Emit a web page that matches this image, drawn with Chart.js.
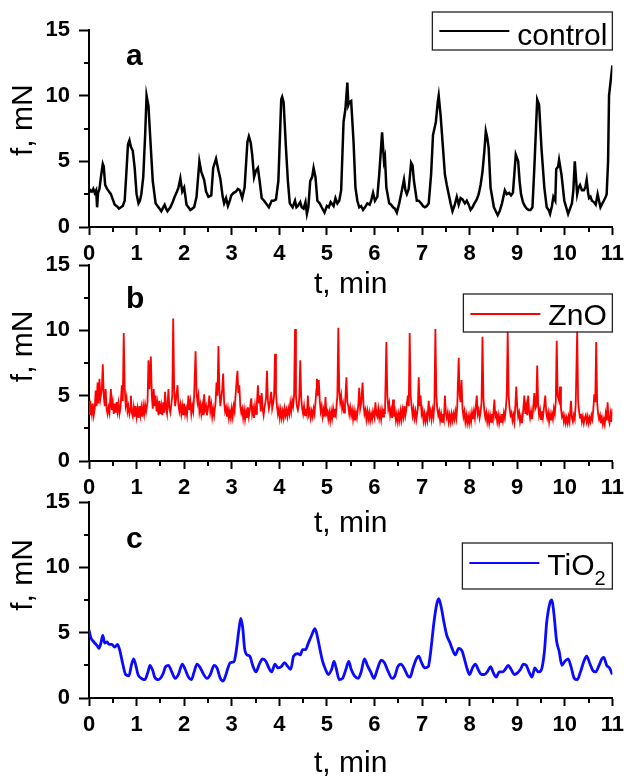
<!DOCTYPE html>
<html><head><meta charset="utf-8">
<script src="https://cdn.jsdelivr.net/npm/chart.js@4.4.1/dist/chart.umd.min.js"></script>
<style>
html,body{margin:0;padding:0;background:#fff;}
#wrap{position:relative;width:630px;height:782px;overflow:hidden;background:#fff;}
canvas{position:absolute;left:0;}
</style></head><body>
<div id="wrap">
<canvas id="ca" width="630" height="303" style="top:0px"></canvas>
<canvas id="cb" width="630" height="307" style="top:235px"></canvas>
<canvas id="cc" width="630" height="310" style="top:472px"></canvas>
</div>
<script>
// ---- data (t in min, f in mN) ----
const controlT = [0.00,0.03,0.06,0.09,0.12,0.15,0.17,0.19,0.22,0.25,0.29,0.31,0.34,0.38,0.42,0.46,0.50,0.54,0.58,0.63,0.67,0.71,0.75,0.78,0.82,0.85,0.88,0.92,0.96,1.00,1.04,1.07,1.10,1.14,1.18,1.21,1.25,1.30,1.34,1.40,1.46,1.52,1.56,1.59,1.62,1.65,1.71,1.76,1.80,1.85,1.88,1.92,1.96,2.00,2.05,2.09,2.13,2.17,2.21,2.26,2.32,2.36,2.42,2.46,2.51,2.57,2.61,2.67,2.72,2.76,2.81,2.84,2.88,2.92,2.96,2.99,3.04,3.09,3.13,3.17,3.22,3.27,3.33,3.36,3.40,3.43,3.47,3.51,3.55,3.59,3.63,3.68,3.72,3.78,3.84,3.88,3.93,3.98,4.04,4.06,4.09,4.14,4.18,4.22,4.28,4.33,4.36,4.39,4.44,4.47,4.51,4.55,4.58,4.61,4.65,4.69,4.72,4.76,4.80,4.85,4.89,4.95,5.00,5.04,5.08,5.14,5.18,5.22,5.26,5.30,5.35,5.39,5.43,5.45,5.47,5.51,5.56,5.60,5.64,5.68,5.72,5.76,5.80,5.85,5.90,5.93,5.97,6.01,6.06,6.10,6.16,6.20,6.22,6.25,6.31,6.35,6.39,6.43,6.47,6.52,6.56,6.62,6.65,6.68,6.72,6.77,6.80,6.83,6.89,6.93,6.98,7.02,7.06,7.10,7.14,7.19,7.23,7.29,7.33,7.35,7.39,7.44,7.48,7.52,7.56,7.60,7.64,7.68,7.73,7.77,7.81,7.85,7.90,7.94,7.98,8.02,8.06,8.10,8.15,8.19,8.23,8.27,8.31,8.34,8.37,8.40,8.44,8.51,8.55,8.59,8.63,8.68,8.74,8.78,8.83,8.87,8.91,8.97,9.02,9.05,9.08,9.12,9.16,9.20,9.24,9.28,9.32,9.36,9.42,9.46,9.51,9.57,9.62,9.66,9.69,9.73,9.76,9.80,9.82,9.86,9.88,9.93,9.99,10.03,10.07,10.11,10.15,10.18,10.21,10.24,10.26,10.29,10.32,10.36,10.40,10.43,10.46,10.49,10.51,10.54,10.57,10.61,10.65,10.69,10.72,10.75,10.79,10.82,10.86,10.88,10.91,10.93,10.96,11.00];
const controlF = [2.6,2.8,2.7,2.9,2.6,2.8,1.5,2.6,2.9,3.8,4.8,4.6,3.2,2.9,2.7,2.5,2.1,1.7,1.6,1.4,1.5,1.6,2.0,3.8,6.3,6.6,6.1,5.8,4.5,2.5,1.8,2.0,2.5,3.8,7.0,10.0,9.2,6.0,3.5,1.8,1.5,1.2,1.5,1.7,1.4,1.2,1.5,1.9,2.3,2.7,3.0,3.7,2.7,3.0,1.7,1.5,1.3,1.4,1.5,2.3,5.0,4.2,3.6,2.7,2.3,2.4,4.5,5.2,4.3,3.7,2.3,1.8,2.2,1.6,2.0,2.4,2.6,2.7,2.9,2.8,2.2,3.0,6.5,6.9,6.4,5.5,3.8,4.3,4.5,3.4,2.2,2.0,1.8,1.5,2.0,2.0,2.1,3.5,9.7,9.9,9.5,6.0,3.5,1.8,1.5,2.0,1.5,1.6,1.9,1.5,1.4,1.9,1.0,1.5,3.5,3.8,4.5,3.8,2.0,1.8,1.5,1.1,1.6,1.5,1.9,1.6,2.2,1.8,2.0,2.8,8.0,9.0,11.0,9.3,9.5,9.6,6.5,3.0,2.0,1.5,1.6,1.3,1.5,1.8,1.7,2.0,2.6,2.0,2.3,4.0,7.2,5.0,5.3,3.0,1.8,1.7,1.5,1.4,1.1,1.8,2.5,3.6,2.8,2.5,2.9,4.9,4.7,3.5,2.0,2.0,1.8,1.6,1.5,1.6,1.8,4.0,7.0,8.0,9.5,10.0,8.5,6.0,4.0,3.2,2.5,1.8,1.2,1.6,2.3,1.7,2.2,2.1,1.8,2.0,1.7,1.3,1.5,1.8,2.1,2.5,3.2,4.2,5.8,7.3,6.8,6.0,3.0,1.5,1.2,0.9,1.2,1.8,2.8,2.5,2.6,2.4,2.6,5.5,5.0,3.5,2.5,1.9,1.6,1.4,1.3,1.3,1.5,4.5,9.7,9.3,6.0,3.0,1.5,1.3,1.0,1.6,2.3,2.0,4.4,4.6,5.1,4.0,2.0,1.5,1.0,1.4,1.8,2.8,5.0,3.5,2.5,3.0,3.2,2.8,2.8,3.0,3.6,2.6,2.2,2.3,2.0,1.9,1.7,2.5,2.0,1.5,1.8,2.0,2.3,2.5,5.0,10.0,11.0,12.3];

const znoT = [0.00,0.02,0.04,0.06,0.08,0.10,0.12,0.14,0.16,0.18,0.20,0.22,0.24,0.27,0.29,0.31,0.33,0.35,0.37,0.39,0.41,0.43,0.46,0.48,0.50,0.52,0.54,0.56,0.58,0.60,0.62,0.64,0.66,0.69,0.71,0.73,0.75,0.77,0.79,0.81,0.83,0.85,0.87,0.88,0.90,0.92,0.94,0.96,0.98,1.00,1.02,1.04,1.06,1.08,1.10,1.12,1.14,1.16,1.18,1.20,1.23,1.25,1.27,1.30,1.32,1.34,1.36,1.38,1.40,1.42,1.44,1.46,1.48,1.50,1.52,1.54,1.56,1.58,1.60,1.62,1.64,1.67,1.69,1.71,1.73,1.75,1.77,1.79,1.81,1.83,1.86,1.88,1.90,1.92,1.94,1.96,1.98,2.00,2.02,2.04,2.06,2.09,2.11,2.13,2.15,2.17,2.19,2.21,2.24,2.26,2.28,2.30,2.32,2.34,2.36,2.38,2.40,2.42,2.44,2.46,2.48,2.50,2.53,2.55,2.57,2.59,2.61,2.63,2.66,2.68,2.70,2.72,2.74,2.76,2.78,2.80,2.82,2.84,2.86,2.88,2.90,2.92,2.94,2.96,2.98,3.00,3.02,3.04,3.06,3.08,3.10,3.12,3.14,3.16,3.18,3.20,3.22,3.24,3.26,3.28,3.30,3.32,3.34,3.36,3.38,3.41,3.43,3.45,3.47,3.49,3.51,3.53,3.55,3.57,3.59,3.61,3.63,3.65,3.67,3.69,3.72,3.74,3.76,3.78,3.80,3.83,3.85,3.87,3.89,3.91,3.93,3.95,3.97,3.99,4.01,4.03,4.05,4.07,4.09,4.11,4.13,4.15,4.17,4.19,4.21,4.23,4.25,4.27,4.29,4.31,4.33,4.35,4.37,4.39,4.41,4.42,4.44,4.46,4.48,4.50,4.52,4.54,4.56,4.58,4.60,4.62,4.64,4.66,4.68,4.70,4.72,4.74,4.76,4.78,4.79,4.81,4.83,4.85,4.87,4.89,4.91,4.93,4.95,4.97,4.99,5.01,5.03,5.05,5.07,5.09,5.11,5.13,5.15,5.17,5.19,5.22,5.24,5.26,5.28,5.30,5.32,5.34,5.36,5.38,5.41,5.43,5.45,5.47,5.49,5.51,5.53,5.55,5.57,5.59,5.61,5.63,5.66,5.68,5.70,5.72,5.75,5.77,5.79,5.81,5.83,5.85,5.87,5.89,5.91,5.93,5.95,5.97,6.00,6.02,6.04,6.06,6.08,6.10,6.12,6.14,6.16,6.18,6.20,6.22,6.25,6.27,6.29,6.31,6.33,6.35,6.37,6.39,6.41,6.43,6.45,6.47,6.49,6.51,6.53,6.55,6.57,6.59,6.61,6.63,6.65,6.67,6.70,6.72,6.74,6.76,6.78,6.80,6.82,6.84,6.86,6.88,6.91,6.93,6.95,6.97,6.99,7.01,7.03,7.05,7.07,7.09,7.11,7.14,7.16,7.18,7.20,7.22,7.24,7.26,7.28,7.30,7.32,7.34,7.36,7.38,7.40,7.42,7.44,7.46,7.48,7.50,7.52,7.54,7.56,7.58,7.60,7.62,7.64,7.66,7.68,7.70,7.72,7.74,7.77,7.79,7.81,7.83,7.85,7.87,7.89,7.91,7.93,7.95,7.97,7.99,8.01,8.03,8.05,8.07,8.09,8.11,8.13,8.15,8.17,8.19,8.21,8.23,8.25,8.27,8.29,8.31,8.33,8.35,8.37,8.39,8.41,8.43,8.45,8.47,8.49,8.52,8.54,8.56,8.58,8.60,8.62,8.64,8.66,8.68,8.70,8.72,8.74,8.76,8.78,8.80,8.82,8.84,8.86,8.88,8.90,8.92,8.94,8.96,8.98,9.00,9.02,9.04,9.06,9.08,9.10,9.12,9.15,9.17,9.19,9.21,9.23,9.25,9.27,9.29,9.31,9.33,9.36,9.38,9.40,9.42,9.44,9.46,9.48,9.50,9.52,9.54,9.56,9.59,9.61,9.63,9.65,9.67,9.69,9.71,9.73,9.75,9.77,9.79,9.81,9.83,9.85,9.88,9.90,9.92,9.94,9.96,9.98,10.00,10.02,10.04,10.06,10.08,10.10,10.13,10.15,10.17,10.19,10.21,10.23,10.26,10.28,10.30,10.32,10.34,10.36,10.38,10.40,10.42,10.44,10.46,10.48,10.50,10.52,10.54,10.56,10.58,10.60,10.62,10.64,10.66,10.68,10.70,10.72,10.74,10.76,10.78,10.80,10.82,10.84,10.86,10.88,10.90,10.92,10.94,10.96,10.98,11.00];
const znoF = [4.6,3.5,4.2,3.6,4.4,3.5,4.0,5.4,4.2,6.0,4.4,6.3,4.8,5.5,7.4,5.0,4.2,5.5,4.0,3.6,4.1,3.7,5.5,3.9,4.5,3.6,4.4,3.7,4.5,3.8,4.4,3.6,4.0,5.8,4.6,9.8,5.6,4.3,4.8,3.8,4.2,3.6,4.0,5.0,3.7,3.4,4.1,3.4,4.2,3.4,4.0,3.3,4.2,3.5,4.1,3.4,4.2,3.6,4.3,3.8,4.5,7.7,5.5,8.0,5.0,4.0,5.5,4.2,5.0,3.8,4.4,3.5,4.6,3.6,4.2,3.5,4.5,3.7,5.3,4.0,3.6,5.5,4.0,3.7,4.3,5.0,10.9,5.5,4.2,4.8,5.8,4.3,3.8,4.3,3.6,4.2,3.5,4.4,3.6,4.0,3.5,5.0,3.9,4.5,3.6,4.2,3.8,5.0,8.4,5.2,4.5,5.0,3.8,4.3,3.6,4.2,3.5,5.1,3.9,4.2,3.5,4.0,5.0,3.8,4.3,3.4,4.0,3.5,4.5,6.0,5.0,8.8,5.5,4.2,4.8,5.5,6.7,4.5,3.8,4.1,3.4,4.0,3.3,3.8,3.3,4.0,3.4,4.2,3.8,5.0,6.0,6.9,5.2,5.8,4.2,3.7,4.0,3.3,3.9,3.2,3.8,3.3,4.1,3.4,3.9,4.8,3.6,4.0,3.3,4.2,3.6,4.5,5.8,4.4,5.0,3.8,5.2,4.0,3.5,4.1,4.8,6.9,4.6,4.0,4.4,5.3,4.0,4.4,5.0,8.2,5.2,4.2,3.6,4.0,3.3,3.9,3.3,3.8,3.3,4.0,3.5,3.9,3.4,4.0,3.6,4.4,3.8,4.6,4.2,5.0,10.1,5.0,4.2,3.9,4.3,5.0,7.7,4.8,4.0,3.6,4.2,3.5,4.0,3.6,5.0,3.6,3.9,3.3,3.8,3.4,4.0,3.6,4.5,5.5,6.3,5.0,6.2,4.6,3.8,4.2,3.4,3.9,3.4,4.9,3.6,3.8,3.2,3.7,3.1,3.8,3.3,4.0,3.4,4.0,3.6,5.0,10.2,5.3,4.5,5.0,4.0,4.4,3.7,4.2,6.4,4.5,4.2,3.6,4.1,3.5,3.9,3.2,3.8,3.1,3.7,3.3,4.3,5.6,4.0,4.4,6.0,4.3,3.6,3.9,3.2,3.8,3.2,3.7,3.1,3.6,3.2,3.8,3.3,4.5,3.6,3.4,4.0,3.3,3.8,3.2,3.9,3.4,4.0,3.6,9.1,5.0,4.0,4.4,3.5,3.9,3.3,4.7,3.4,3.8,3.1,3.6,3.0,3.6,3.1,3.8,3.2,3.9,3.4,4.2,3.5,4.0,5.0,4.2,9.8,5.0,4.2,3.5,4.0,3.3,3.8,3.2,4.0,6.4,4.2,5.0,3.6,3.9,3.1,3.6,3.0,3.5,3.1,4.6,3.4,3.8,3.2,3.9,3.4,4.4,10.1,5.0,4.0,3.5,3.8,3.1,3.6,3.0,3.6,3.2,5.0,3.7,3.3,3.7,3.0,3.5,3.0,3.6,3.1,3.6,3.2,3.8,3.3,4.2,7.9,5.0,4.5,6.2,4.0,3.4,3.8,3.0,3.5,2.9,3.4,2.9,3.5,3.0,3.7,3.2,3.8,3.3,4.2,5.0,3.6,3.9,3.3,3.7,4.5,9.5,4.8,3.8,3.3,3.7,3.0,3.5,2.9,3.5,3.0,3.6,3.2,4.7,3.4,3.6,3.0,3.5,2.9,3.4,3.0,3.6,3.1,3.7,3.3,4.0,5.0,9.9,5.0,4.0,3.5,3.7,3.1,3.5,3.0,4.2,5.7,4.2,3.4,3.7,3.0,3.4,2.9,3.6,5.0,3.6,4.2,3.5,5.0,3.8,3.3,3.8,3.2,3.8,5.2,4.0,4.2,7.3,4.3,3.5,3.9,3.2,3.8,3.3,4.0,5.0,3.7,3.3,3.7,3.0,3.6,3.1,3.6,3.2,4.0,3.6,4.5,9.2,5.0,4.6,5.7,4.0,3.4,3.6,3.0,3.4,2.9,3.3,2.9,3.4,3.0,4.6,3.3,3.0,3.5,3.2,4.4,9.9,4.6,3.8,3.3,3.6,3.0,3.4,2.9,3.3,3.5,3.0,3.4,2.9,3.3,3.0,3.5,3.2,4.0,5.1,4.5,9.1,4.5,3.6,3.2,3.5,2.9,3.3,2.8,3.2,2.8,3.6,3.1,4.5,3.2,2.9,3.6,3.0,4.0];

const tio2T = [0.00,0.04,0.10,0.17,0.21,0.25,0.29,0.33,0.38,0.42,0.48,0.54,0.60,0.65,0.71,0.77,0.84,0.89,0.94,0.99,1.03,1.10,1.17,1.24,1.28,1.34,1.38,1.46,1.55,1.61,1.67,1.74,1.81,1.88,1.96,2.02,2.09,2.15,2.21,2.27,2.34,2.41,2.48,2.55,2.63,2.69,2.76,2.82,2.87,2.92,2.97,3.05,3.09,3.15,3.19,3.23,3.27,3.32,3.38,3.44,3.51,3.58,3.65,3.72,3.78,3.84,3.91,3.97,4.04,4.11,4.18,4.24,4.30,4.39,4.44,4.49,4.55,4.61,4.68,4.75,4.80,4.85,4.91,4.97,5.03,5.10,5.15,5.20,5.26,5.33,5.40,5.46,5.51,5.58,5.66,5.72,5.79,5.85,5.92,5.99,6.06,6.14,6.21,6.28,6.37,6.43,6.49,6.56,6.62,6.70,6.75,6.81,6.88,6.93,6.99,7.06,7.13,7.18,7.25,7.31,7.35,7.40,7.46,7.52,7.59,7.64,7.70,7.77,7.84,7.89,7.95,8.00,8.06,8.12,8.19,8.25,8.31,8.37,8.44,8.49,8.56,8.62,8.69,8.75,8.81,8.87,8.94,9.00,9.07,9.13,9.19,9.26,9.31,9.37,9.44,9.50,9.57,9.62,9.69,9.73,9.77,9.83,9.88,9.94,10.00,10.07,10.13,10.20,10.26,10.33,10.40,10.46,10.53,10.59,10.65,10.72,10.78,10.82,10.88,10.94,11.00];
const tio2F = [5.2,4.6,4.3,4.0,3.8,4.2,4.8,4.2,4.3,4.1,4.1,3.9,4.1,3.6,2.6,1.8,1.7,2.5,3.0,2.4,1.8,1.5,1.4,2.0,2.5,2.1,1.6,1.4,1.8,2.4,2.5,2.0,1.5,1.8,2.6,2.2,1.6,1.4,2.0,2.6,2.3,1.8,1.5,1.8,2.5,2.3,1.5,1.3,1.7,2.3,2.7,2.8,3.5,5.2,6.1,5.4,3.8,3.3,3.2,2.5,2.0,2.6,3.0,2.8,2.3,2.0,2.6,2.3,2.4,2.7,2.4,2.2,3.2,3.4,3.3,3.7,3.7,4.2,4.8,5.3,4.7,3.8,2.8,2.2,1.8,2.2,2.8,2.2,1.4,1.5,2.2,2.8,2.2,1.7,1.5,2.0,3.0,2.5,2.0,1.5,2.2,2.9,2.7,2.1,1.5,1.7,2.4,2.6,2.3,1.7,1.6,2.3,3.0,3.2,2.7,2.3,2.4,3.5,5.8,7.2,7.6,7.0,5.8,4.8,4.2,3.7,3.3,3.8,3.6,3.0,2.2,1.8,2.3,2.6,2.1,1.8,1.8,2.0,2.4,2.0,1.6,2.0,2.0,2.2,2.5,2.2,1.8,1.9,2.2,2.6,2.5,1.9,1.6,2.3,2.0,2.1,3.5,5.8,7.3,7.5,6.5,4.3,3.6,2.5,2.8,3.0,2.4,1.5,1.4,2.0,2.8,3.2,2.6,2.1,2.0,2.5,3.0,3.1,2.5,2.3,1.8];

const xTickValues = [0,1,2,3,4,5,6,7,8,9,10,11];
const xMinorTicks = [0.5,1.5,2.5,3.5,4.5,5.5,6.5,7.5,8.5,9.5,10.5];
const yTickValues = [0,5,10,15];
const yMinorTicks = [2.5,7.5,12.5];
const panelLetters = ['a','b','c'];
const seriesNames = ['control','ZnO','TiO2'];
const xTitle = 't, min';
const yTitle = 'f, mN';

// ---- chart setup ----
Chart.defaults.font.family = "'Liberation Sans', Arial, sans-serif";
Chart.defaults.color = '#000';

const minorTicksPlugin = {
  id: 'minorTicks',
  afterDraw(chart) {
    const ctx = chart.ctx, xs = chart.scales.x, ys = chart.scales.y, a = chart.chartArea;
    ctx.save();
    ctx.strokeStyle = '#000';
    ctx.lineWidth = 2;
    ctx.beginPath();
    xMinorTicks.forEach(v => {
      const px = Math.round(xs.getPixelForValue(v));
      ctx.moveTo(px, a.bottom); ctx.lineTo(px, a.bottom + 5);
    });
    yMinorTicks.forEach(v => {
      const py = Math.round(ys.getPixelForValue(v));
      ctx.moveTo(a.left, py); ctx.lineTo(a.left - 5, py);
    });
    ctx.stroke();
    ctx.restore();
  }
};

const boxLegendPlugin = {
  id: 'boxLegend',
  afterDraw(chart, args, o) {
    const ctx = chart.ctx, a = chart.chartArea, ds = chart.data.datasets[0];
    const left = a.right - o.width, top = a.top + o.dy, h = o.height;
    ctx.save();
    ctx.strokeStyle = '#222';
    ctx.lineWidth = 1.3;
    ctx.strokeRect(left, top, o.width, h);
    ctx.strokeStyle = ds.borderColor;
    ctx.lineWidth = 2.2;
    ctx.beginPath();
    ctx.moveTo(left + 7, top + o.lineY);
    ctx.lineTo(left + 77, top + o.lineY);
    ctx.stroke();
    ctx.fillStyle = '#000';
    ctx.textBaseline = 'alphabetic';
    ctx.textAlign = 'left';
    ctx.font = "30px 'Liberation Sans', Arial, sans-serif";
    const label = ds.label;
    const m = label.match(/^(.*?)(\d+)$/);
    if (m) {
      ctx.fillText(m[1], left + 85, top + o.baseline);
      const w = ctx.measureText(m[1]).width;
      ctx.font = "20px 'Liberation Sans', Arial, sans-serif";
      ctx.fillText(m[2], left + 85 + w, top + o.baseline + 10);
    } else {
      ctx.fillText(label, left + 85, top + o.baseline);
    }
    ctx.restore();
  }
};

const panelLetterPlugin = {
  id: 'panelLetter',
  afterDraw(chart, args, o) {
    const ctx = chart.ctx, a = chart.chartArea;
    ctx.save();
    ctx.fillStyle = '#000';
    ctx.font = "bold 30px 'Liberation Sans', Arial, sans-serif";
    ctx.textBaseline = 'alphabetic';
    ctx.fillText(o.text, a.left + 37, a.top + o.dy);
    ctx.restore();
  }
};

function makeChart(id, tArr, fArr, name, color, width, smooth, cfg) {
  const pts = tArr.map((t, i) => ({x: t, y: fArr[i]}));
  return new Chart(document.getElementById(id), {
    type: 'line',
    data: { datasets: [{
      label: name, data: pts, borderColor: color, borderWidth: width,
      pointRadius: 0, fill: false, tension: smooth ? 0.4 : 0,
      cubicInterpolationMode: smooth ? 'monotone' : 'default'
    }]},
    options: {
      responsive: false, animation: false, devicePixelRatio: 1,
      layout: { padding: { top: 30, right: 13, bottom: 0, left: 0 } },
      plugins: {
        legend: { display: false }, tooltip: { enabled: false },
        boxLegend: cfg.legend,
        panelLetter: { text: cfg.letter, dy: cfg.letterDy }
      },
      scales: {
        x: {
          type: 'linear', min: 0, max: 11,
          afterBuildTicks: s => { s.ticks = xTickValues.map(v => ({value: v})); },
          afterFit: s => { s.height = cfg.xHeight; },
          ticks: { autoSkip: false, maxRotation: 0, minRotation: 0, padding: 6,
                   color: '#000', font: { size: 22, weight: 'bold' } },
          grid: { drawOnChartArea: false, drawTicks: true, tickLength: 8, tickWidth: 2, tickColor: '#000' },
          border: { display: true, color: '#000', width: 2 },
          title: { display: true, text: xTitle, color: '#000', font: { size: 30 }, padding: { top: 0, bottom: 0 } }
        },
        y: {
          type: 'linear', min: 0, max: 15,
          afterBuildTicks: s => { s.ticks = yTickValues.map(v => ({value: v})); },
          afterFit: s => { s.width = 89; },
          ticks: { padding: 9, color: '#000', font: { size: 22, weight: 'bold' } },
          grid: { drawOnChartArea: false, drawTicks: true, tickLength: 10, tickWidth: 2, tickColor: '#000' },
          border: { display: true, color: '#000', width: 2 },
          title: { display: true, text: cfg.yTitleText, color: '#000', font: { size: 30 }, padding: { top: 6, bottom: 0 } }
        }
      }
    },
    plugins: [minorTicksPlugin, boxLegendPlugin, panelLetterPlugin]
  });
}

makeChart('ca', controlT, controlF, seriesNames[0], '#000000', 2.5, false, {
  letter: panelLetters[0], letterDy: 35, xHeight: 76, yTitleText: '  ' + yTitle,
  legend: { width: 180, dy: -18, height: 38, lineY: 19, baseline: 33 }
});
makeChart('cb', znoT, znoF, seriesNames[1], '#ff0000', 1.8, false, {
  letter: panelLetters[1], letterDy: 43, xHeight: 81, yTitleText: '    ' + yTitle,
  legend: { width: 149, dy: 29, height: 38, lineY: 20, baseline: 31 }
});
makeChart('cc', tio2T, tio2F, seriesNames[2], '#0a0aff', 2.8, true, {
  letter: panelLetters[2], letterDy: 46, xHeight: 84, yTitleText: '      ' + yTitle,
  legend: { width: 150, dy: 41, height: 46, lineY: 20, baseline: 32 }
});
</script>
</body></html>
